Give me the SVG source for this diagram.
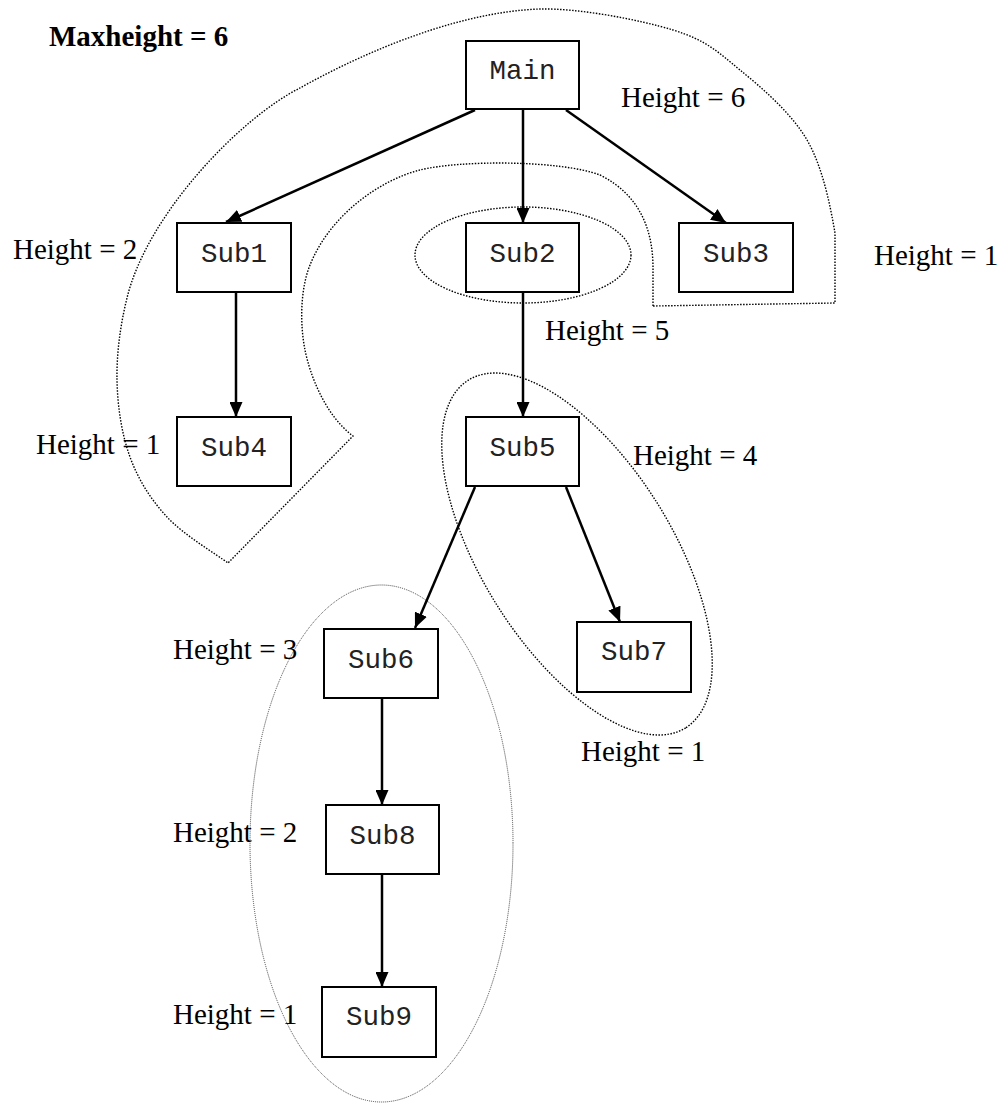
<svg xmlns="http://www.w3.org/2000/svg" width="998" height="1103" viewBox="0 0 998 1103">
<style>
.box{fill:#fff;stroke:#000;stroke-width:2}
.bt{font-family:"Liberation Mono","Courier New",monospace;font-size:27.5px;text-anchor:middle;fill:#222}
.lbl{font-family:"Liberation Serif","Times New Roman",serif;font-size:29px;fill:#000}
.edge{stroke:#000;stroke-width:2.5;fill:none;marker-end:url(#ah)}
.dot{fill:none;stroke:#000;stroke-width:1.4;stroke-dasharray:1.5 1.5}
.dot2{fill:none;stroke:#444;stroke-width:1;stroke-dasharray:1 1}
</style>
<defs>
<marker id="ah" markerUnits="userSpaceOnUse" markerWidth="15" markerHeight="13" viewBox="0 0 15 13" refX="15" refY="6.5" orient="auto">
<path d="M0,0 L15,6.5 L0,13 Z" fill="#000"/>
</marker>
</defs>
<rect width="998" height="1103" fill="#fff"/>
<g id="outlines">
<path class="dot" d="M653,306 L653,268 C653,230 640,195 600,175 C560,160 460,160 420,170 C380,180 330,215 310,265 C300,290 300,325 305,350 C310,375 325,415 353,436 L228,563 C217.8,555.3 183.3,534.7 167,517 C150.7,499.3 138.3,479.8 130,457 C121.7,434.2 117.5,406.5 117,380 C116.5,353.5 120.3,325.2 127,298 C147,215 240,118 300,88 C350,60 450,12 540,9 C578.8,8 639.7,19.8 673,30 C706.3,40.2 717.7,51.7 740,70 C762.3,88.3 791.2,112.8 807,140 C822.8,167.2 830.3,205.8 835,233 L835,303 Z"/>
<ellipse class="dot" cx="523" cy="255" rx="108" ry="48"/>
<ellipse class="dot" cx="577" cy="554" rx="205" ry="95" transform="rotate(58 577 554)"/>
<ellipse class="dot2" cx="381.5" cy="843.5" rx="131.5" ry="258.5"/>
</g>
<g id="connectors">
<path class="edge" d="M475,110 L226,222"/>
<path class="edge" d="M523,110 L523,223"/>
<path class="edge" d="M566,110 L726,223"/>
<path class="edge" d="M236,292 L236,417"/>
<path class="edge" d="M523,292 L523,417"/>
<path class="edge" d="M475,487 L415,628"/>
<path class="edge" d="M566,487 L620,622"/>
<path class="edge" d="M382,698 L382,805"/>
<path class="edge" d="M382,874 L382,987"/>
</g>
<g id="Main"><rect class="box" x="466" y="41" width="113" height="68"/><text class="bt" x="522.5" y="79">Main</text></g>
<g id="Sub1"><rect class="box" x="177" y="223" width="114" height="69"/><text class="bt" x="234" y="262">Sub1</text></g>
<g id="Sub2"><rect class="box" x="466" y="223" width="113" height="69"/><text class="bt" x="522.5" y="262">Sub2</text></g>
<g id="Sub3"><rect class="box" x="679" y="223" width="114" height="69"/><text class="bt" x="736" y="262">Sub3</text></g>
<g id="Sub4"><rect class="box" x="177" y="417" width="114" height="69"/><text class="bt" x="234" y="456">Sub4</text></g>
<g id="Sub5"><rect class="box" x="466" y="417" width="113" height="69"/><text class="bt" x="522.5" y="456">Sub5</text></g>
<g id="Sub6"><rect class="box" x="324" y="629" width="114" height="69"/><text class="bt" x="381" y="668">Sub6</text></g>
<g id="Sub7"><rect class="box" x="577" y="622" width="114" height="70"/><text class="bt" x="634" y="660">Sub7</text></g>
<g id="Sub8"><rect class="box" x="326" y="805" width="113" height="69"/><text class="bt" x="382.5" y="844">Sub8</text></g>
<g id="Sub9"><rect class="box" x="322" y="987" width="114" height="70"/><text class="bt" x="379" y="1025">Sub9</text></g>
<g id="labels">
<text class="lbl" x="49" y="46" font-weight="bold" font-size="30">Maxheight = 6</text>
<text class="lbl" x="621" y="107">Height = 6</text>
<text class="lbl" x="13" y="259">Height = 2</text>
<text class="lbl" x="874" y="265">Height = 1</text>
<text class="lbl" x="545" y="340">Height = 5</text>
<text class="lbl" x="36" y="454">Height = 1</text>
<text class="lbl" x="633" y="465">Height = 4</text>
<text class="lbl" x="581" y="761">Height = 1</text>
<text class="lbl" x="173" y="659">Height = 3</text>
<text class="lbl" x="173" y="842">Height = 2</text>
<text class="lbl" x="173" y="1024">Height = 1</text>
</g>
</svg>
